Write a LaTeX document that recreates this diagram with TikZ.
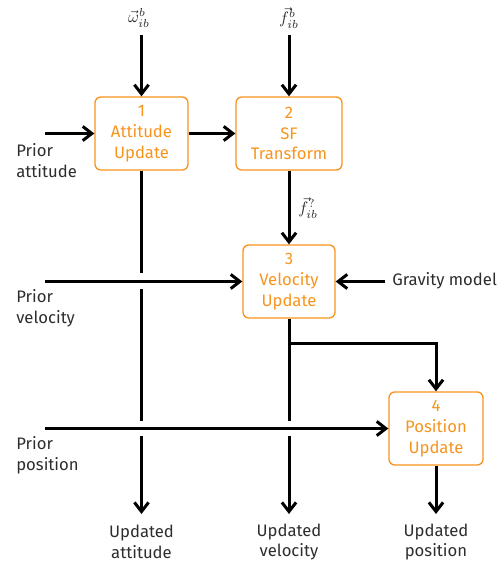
\documentclass[tikz,border=0pt]{standalone}
\usepackage{fontspec}
\setmainfont{Fira Sans}
\usetikzlibrary{arrows.meta}
\definecolor{boxorange}{RGB}{247,148,30}
\definecolor{txtgray}{RGB}{45,45,45}
\begin{document}
\begin{tikzpicture}[x=0.6pt,y=-0.6pt,
  block/.style={draw=boxorange,line width=0.8pt,rounded corners=3.5pt,text=boxorange,
    align=center,font=\fontsize{10}{12.5}\selectfont,inner sep=0pt,minimum height=43.8pt},
  lbl/.style={text=txtgray,align=left,font=\fontsize{10}{12.5}\selectfont,inner sep=0pt},
  clbl/.style={text=txtgray,align=center,font=\fontsize{10}{12.5}\selectfont,inner sep=0pt},
  mlbl/.style={inner sep=0pt,text=txtgray},
  flow/.style={line width=1.8pt,-{Straight Barb[length=5.5pt,width=8.5pt]}},
  seg/.style={line width=1.8pt}]
\useasboundingbox (0,0) rectangle (502,565);
% blocks
\node[block,minimum width=55.8pt] (b1) at (141.5,133.5) {1\\Attitude\\Update};
\node[block,minimum width=63.6pt] (b2) at (289,133.5) {2\\SF\\Transform};
\node[block,minimum width=55.2pt] (b3) at (289,281.5) {3\\Velocity\\Update};
\node[block,minimum width=56.4pt] (b4) at (436,428.5) {4\\Position\\Update};
% input labels
\node[mlbl] (om) at (139,18) {$\vec{\omega}^{b}_{ib}$};
\node[mlbl] (fb) at (289,18) {$\vec{f}^{b}_{ib}$};
\node[mlbl,anchor=west] (fq) at (298,208) {$\vec{f}^{?}_{ib}$};
\node[lbl,anchor=west] (pa) at (16,161) {Prior\\attitude};
\node[lbl,anchor=west] (pv) at (16,308) {Prior\\velocity};
\node[lbl,anchor=west] (pp) at (16,455) {Prior\\position};
\node[lbl,anchor=west] (gm) at (392,281) {Gravity model};
\node[clbl] (ua) at (141.5,542) {Updated\\attitude};
\node[clbl] (uv) at (289,542) {Updated\\velocity};
\node[clbl] (up) at (436,542) {Updated\\position};
% coordinates
\coordinate (sa) at (45,133.5);
\coordinate (sv) at (45,281.5);
\coordinate (sp) at (45,428.5);
\coordinate (g0) at (385,281.5);
\coordinate (ta) at (141.5,35);
\coordinate (tf) at (289,35);
\coordinate (a1) at (141.5,273);
\coordinate (a2) at (141.5,289);
\coordinate (a3) at (141.5,421);
\coordinate (a4) at (141.5,436);
\coordinate (ea) at (141.5,514);
\coordinate (v1) at (289,421);
\coordinate (v2) at (289,436);
\coordinate (ev) at (289,514);
\coordinate (vk) at (289,343);
\coordinate (vr) at (436,343);
\coordinate (ep) at (436,514);
% connectors
\draw[flow] (ta) -- (b1.north);
\draw[flow] (tf) -- (b2.north);
\draw[flow] (sa) -- (b1.west);
\draw[flow] (b1.east) -- (b2.west);
\draw[flow] (b2.south) -- (b3.north);
\draw[flow] (sv) -- (b3.west);
\draw[flow] (g0) -- (b3.east);
\draw[flow] (sp) -- (b4.west);
\draw[seg] (b1.south) -- (a1);
\draw[seg] (a2) -- (a3);
\draw[flow] (a4) -- (ea);
\draw[seg] (b3.south) -- (v1);
\draw[flow] (v2) -- (ev);
\draw[flow] (vk) -- (vr) -- (b4.north);
\draw[flow] (b4.south) -- (ep);
\end{tikzpicture}
\end{document}
